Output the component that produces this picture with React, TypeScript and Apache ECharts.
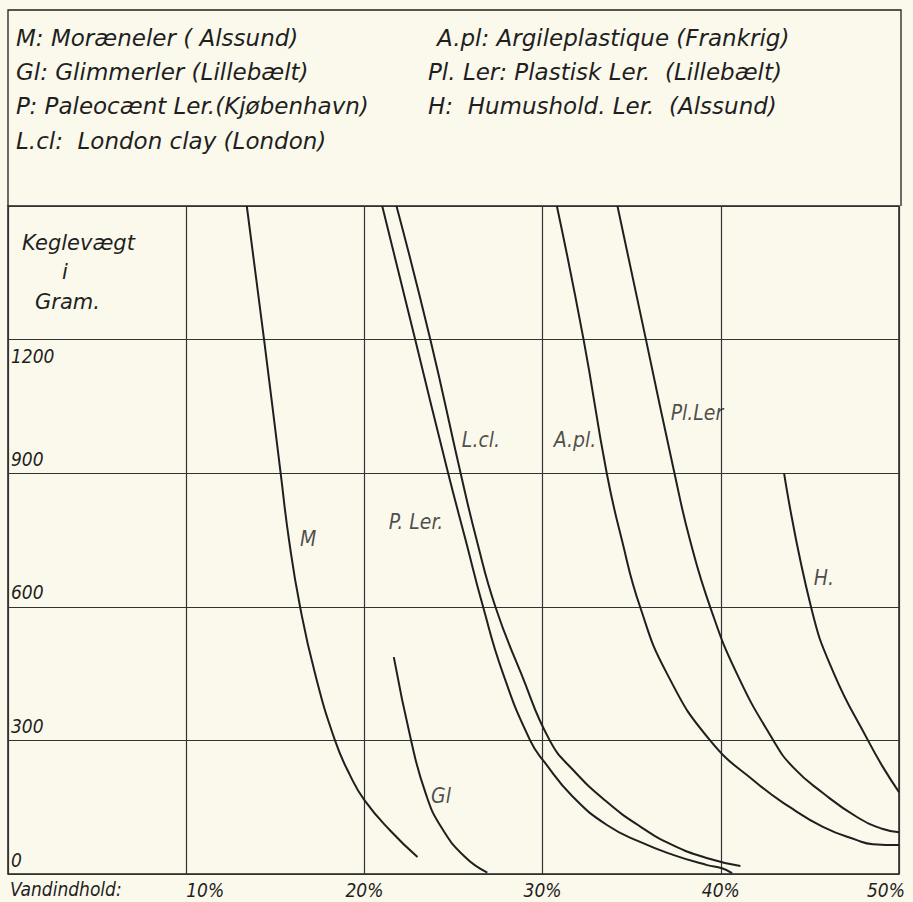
import React, { useEffect, useRef } from "react";
import * as echarts from "echarts";

// ---------- data ----------
const xTickValues = [0, 10, 20, 30, 40, 50];
const yTickValues = [0, 300, 600, 900, 1200, 1500];
const xAxisTitle = "Vandindhold:";
const yAxisTitleLines = ["Keglevægt", "i", "Gram."];

const curveM = [[13.4, 1500], [14.37, 1200], [15.3, 900], [15.77, 750], [16.39, 600], [17.23, 450], [18.35, 300], [19.19, 222], [20.0, 166], [21.46, 97], [22.98, 38]];
const curveGl = [[21.65, 487], [22.62, 300], [23.43, 182], [24.3, 106], [25.65, 38], [26.9, 3]];
const curvePLer = [[21.0, 1500], [22.85, 1200], [24.7, 900], [25.68, 750], [26.66, 600], [27.78, 450], [29.3, 300], [30.13, 250], [31.71, 173], [33.61, 110], [35.47, 72], [37.32, 43], [39.23, 20], [40.07, 13], [40.63, 2]];
const curveLcl = [[21.8, 1500], [23.7, 1200], [25.4, 900], [26.3, 750], [27.35, 600], [28.8, 450], [30.4, 300], [31.7, 234], [33.6, 162], [35.5, 106], [37.3, 65], [39.2, 36], [41.1, 18]];
const curveApl = [[30.8, 1500], [32.3, 1200], [33.6, 900], [34.45, 750], [35.47, 600], [36.98, 450], [39.4, 300], [42.03, 204], [43.88, 150], [45.73, 106], [47.64, 76], [48.54, 67], [50, 65]];
const curvePlLer = [[34.2, 1500], [35.8, 1200], [37.4, 900], [38.27, 750], [39.4, 600], [40.9, 450], [42.95, 300], [44.05, 240], [45.73, 182], [47.64, 128], [49.1, 101], [50, 94]];
const curveH = [[43.55, 900], [45.06, 600], [46.35, 450], [48.26, 300], [49.1, 240], [50, 184]];

const seriesNames = ["M", "Gl", "P. Ler.", "L.cl.", "A.pl.", "Pl.Ler", "H."];
const seriesData = [curveM, curveGl, curvePLer, curveLcl, curveApl, curvePlLer, curveH];

// annotation anchor points (data coordinates)
const annotationPoints = [[16.84, 752], [24.3, 175], [22.9, 790], [26.54, 975], [31.82, 975], [38.66, 1035], [45.79, 665]];
const annotationTexts = ["M", "Gl", "P. Ler.", "L.cl.", "A.pl.", "Pl.Ler", "H."];

const legendLeftColumn = [
  "M: Moræneler ( Alssund)",
  "Gl: Glimmerler (Lillebælt)",
  "P: Paleocænt Ler.(Kjøbenhavn)",
  "L.cl:  London clay (London)",
];
const legendRightColumn = [
  "A.pl: Argileplastique (Frankrig)",
  "Pl. Ler: Plastisk Ler.  (Lillebælt)",
  "H:  Humushold. Ler.  (Alssund)",
];

// ---------- style ----------
const FONT = "'DejaVu Sans', sans-serif";
const FONT_C = "'DejaVu Sans Condensed', 'DejaVu Sans', sans-serif";
const INK = "#1f1f1f";
const BG = "#fbf9ec";

export default function App() {
  const ref = useRef<HTMLDivElement>(null);

  useEffect(() => {
    if (!ref.current) return;
    const chart = echarts.init(ref.current, undefined, { renderer: "svg" });

    const textStyle = { fontFamily: FONT, fontStyle: "italic", fill: INK };

    const graphics: any[] = [];
    // legend box
    graphics.push({
      type: "polyline",
      shape: { points: [[8, 206], [8, 10], [901, 10], [901, 206]] },
      style: { stroke: INK, lineWidth: 1.3, fill: null },
      silent: true,
    });
    const leftY = [38, 72, 106, 141];
    legendLeftColumn.forEach((t, i) => {
      graphics.push({ type: "text", x: 16, y: leftY[i], style: { ...textStyle, text: t, fontSize: 23, verticalAlign: "middle" } });
    });
    const rightX = [437, 428, 428];
    legendRightColumn.forEach((t, i) => {
      graphics.push({ type: "text", x: rightX[i], y: leftY[i], style: { ...textStyle, text: t, fontSize: 23, verticalAlign: "middle" } });
    });
    // y axis title
    graphics.push({ type: "text", x: 22, y: 243, style: { ...textStyle, text: yAxisTitleLines[0], fontSize: 21, verticalAlign: "middle" } });
    graphics.push({ type: "text", x: 62, y: 272, style: { ...textStyle, text: yAxisTitleLines[1], fontSize: 21, verticalAlign: "middle" } });
    graphics.push({ type: "text", x: 35, y: 302, style: { ...textStyle, text: yAxisTitleLines[2], fontSize: 21, verticalAlign: "middle" } });
    // x axis title
    graphics.push({ type: "text", x: 10, y: 889, style: { ...textStyle, fontFamily: FONT_C, text: xAxisTitle, fontSize: 19, verticalAlign: "middle" } });

    const lineSeries = seriesData.map((d, i) => ({
      type: "line",
      name: seriesNames[i],
      data: d,
      smooth: 0.5,
      showSymbol: false,
      symbol: "none",
      lineStyle: { color: INK, width: 2 },
      silent: true,
      z: 3,
    }));

    const annotationSeries = {
      type: "scatter",
      symbolSize: 0,
      itemStyle: { color: INK },
      silent: true,
      z: 4,
      data: annotationPoints.map((p, i) => ({ name: annotationTexts[i], value: p })),
      label: {
        show: true,
        position: "inside",
        formatter: "{b}",
        fontFamily: FONT_C,
        fontStyle: "italic",
        fontSize: 21,
        color: INK,
        textBorderWidth: 0,
        textBorderColor: "transparent",
      },
    };

    const labelFont = { fontFamily: FONT_C, fontStyle: "italic", fontSize: 19, color: INK };

    chart.setOption({
      animation: false,
      backgroundColor: BG,
      graphic: graphics,
      grid: {
        left: 8,
        right: 14,
        top: 206,
        bottom: 28,
        show: true,
        borderColor: INK,
        borderWidth: 1.5,
        containLabel: false,
        outerBoundsMode: "none",
      },
      xAxis: {
        type: "value",
        min: xTickValues[0],
        max: xTickValues[xTickValues.length - 1],
        interval: 10,
        axisLine: { show: false },
        axisTick: { show: false },
        splitLine: { show: true, lineStyle: { color: "#333", width: 1.2 } },
        axisLabel: {
          ...labelFont,
          margin: 6,
          showMinLabel: true,
          showMaxLabel: true,
          formatter: (v: number) => {
            if (v === 0) return "";
            if (v === 10) return "{a|10%}";
            if (v === 50) return "{e|50%}";
            return v + "%";
          },
          rich: {
            a: { ...labelFont, padding: [0, 0, 0, 38] },
            e: { ...labelFont, padding: [0, 26, 0, 0] },
          },
        },
      },
      yAxis: [
        {
          type: "value",
          min: yTickValues[0],
          max: yTickValues[yTickValues.length - 1],
          interval: 300,
          axisLine: { show: false },
          axisTick: { show: false },
          splitLine: { show: true, lineStyle: { color: "#333", width: 1.2 } },
          axisLabel: {
            ...labelFont,
            inside: true,
            align: "left",
            verticalAlign: "bottom",
            margin: 3,
            padding: [0, 0, 5, 0],
            showMinLabel: true,
            formatter: (v: number) => (v === 1200 || v === 1500 ? "" : String(v)),
          },
        },
        {
          type: "value",
          position: "left",
          offset: 0,
          min: yTickValues[0],
          max: yTickValues[yTickValues.length - 1],
          interval: 300,
          axisLine: { show: false },
          axisTick: { show: false },
          splitLine: { show: false },
          axisLabel: {
            ...labelFont,
            inside: true,
            align: "left",
            verticalAlign: "top",
            margin: 3,
            padding: [7, 0, 0, 0],
            formatter: (v: number) => (v === 1200 ? "1200" : ""),
          },
        },
      ],
      series: [...lineSeries, annotationSeries],
    });

    return () => chart.dispose();
  }, []);

  return (
    <div
      ref={ref}
      style={{ position: "absolute", left: 0, top: 0, width: 913, height: 902, background: BG }}
    />
  );
}
